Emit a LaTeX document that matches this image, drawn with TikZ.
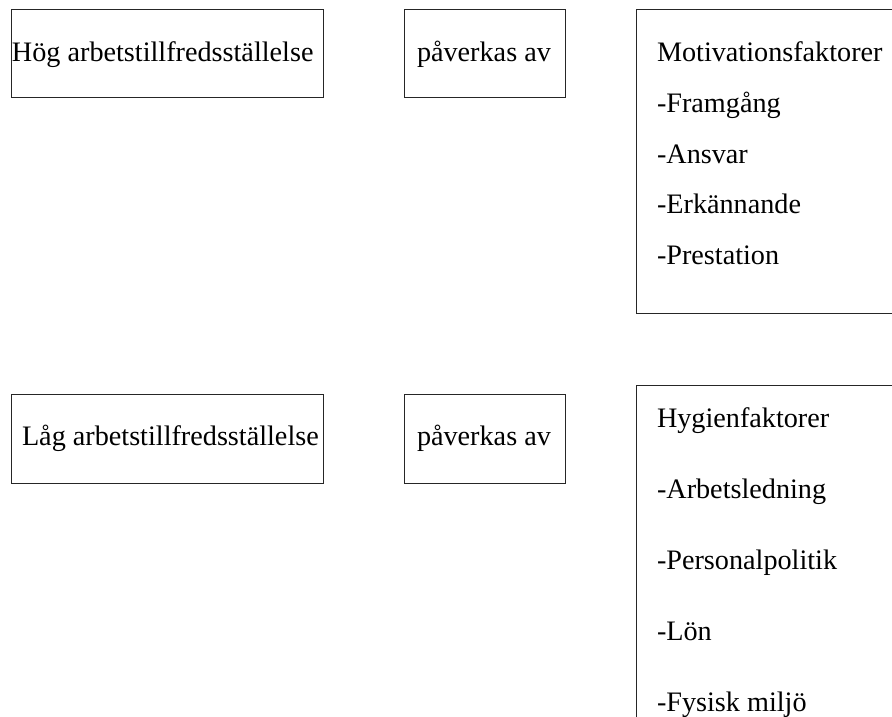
\documentclass[tikz,border=0pt]{standalone}
\usepackage{fontspec}
\setmainfont{Liberation Serif}
\begin{document}
\begin{tikzpicture}[x=1pt, y=-1pt,
  frame/.style={draw=black!85, line width=1pt, inner sep=0pt, outer sep=0pt},
  label/.style={inner sep=0pt, outer sep=0pt, anchor=base west,
                font=\fontsize{28.2}{34}\selectfont}]
  \path[use as bounding box] (0,0) rectangle (892,717);
  \clip (0,0) rectangle (892,717);

  % upper row
  \node[frame, minimum width=312pt, minimum height=88pt] (hog) at (167,54) {};
  \node[label] (hogtxt) at (12,62) {Hög arbetstillfredsställelse};
  \node[frame, minimum width=161pt, minimum height=88pt] (pav1) at (484.5,54) {};
  \node[label] (pav1txt) at (417,62) {påverkas av};
  \node[frame, minimum width=280pt, minimum height=303pt, anchor=north west] (mot) at (636,10) {};
  \node[label] (mot0) at (657,62) {Motivationsfaktorer};
  \node[label] (mot1) at (657,112.5) {-Framgång};
  \node[label] (mot2) at (657,163) {-Ansvar};
  \node[label] (mot3) at (657,213.5) {-Erkännande};
  \node[label] (mot4) at (657,264) {-Prestation};

  % lower row
  \node[frame, minimum width=312pt, minimum height=89pt] (lag) at (167,438.5) {};
  \node[label] (lagtxt) at (22,445) {Låg arbetstillfredsställelse};
  \node[frame, minimum width=161pt, minimum height=89pt] (pav2) at (484.5,438.5) {};
  \node[label] (pav2txt) at (417,445) {påverkas av};
  \node[frame, minimum width=280pt, minimum height=360pt, anchor=north west] (hyg) at (636,385) {};
  \node[label] (hyg0) at (657,427) {Hygienfaktorer};
  \node[label] (hyg1) at (657,498) {-Arbetsledning};
  \node[label] (hyg2) at (657,569) {-Personalpolitik};
  \node[label] (hyg3) at (657,640) {-Lön};
  \node[label] (hyg4) at (657,711) {-Fysisk miljö};
\end{tikzpicture}
\end{document}
